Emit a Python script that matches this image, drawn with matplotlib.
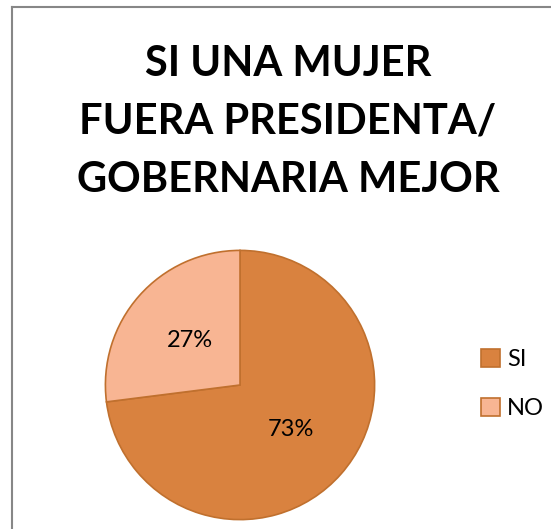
import matplotlib
matplotlib.use('Agg')
import matplotlib.pyplot as plt
from matplotlib.lines import Line2D

# datos
categorias = ['SI', 'NO']
valores = [73, 27]
colores = ['#D9823F', '#F8B593']
titulo = 'SI UNA MUJER\nFUERA PRESIDENTA/\nGOBERNARIA MEJOR'

plt.rcParams['font.family'] = ['Lato', 'DejaVu Sans']

fig = plt.figure(figsize=(5.51, 5.29), dpi=100)

# marco gris del grafico
fig.add_artist(Line2D([11.5 / 551, 11.5 / 551], [0, 1 - 6.5 / 529],
                      transform=fig.transFigure, color='#878787', lw=1.5))
fig.add_artist(Line2D([11.5 / 551, 1], [1 - 6.5 / 529, 1 - 6.5 / 529],
                      transform=fig.transFigure, color='#878787', lw=1.5))

fig.text(288 / 551, 1 - 122 / 529, titulo, ha='center', va='center',
         fontsize=30, fontweight='bold', linespacing=1.65)

ax = fig.add_axes([0.1888, 0.0152, 0.4936, 0.514])
wedges, texts, autotexts = ax.pie(
    valores, colors=colores, startangle=90, counterclock=False,
    autopct='%1.0f%%', pctdistance=0.5,
    wedgeprops=dict(edgecolor='#C0702E', linewidth=1.2),
    textprops=dict(fontsize=17, color='black'))
ax.set_aspect('equal')
ax.set_xlim(-1.01, 1.01)
ax.set_ylim(-1.01, 1.01)

leg = fig.legend(wedges, categorias, loc='center left',
                 bbox_to_anchor=(481 / 551, 1 - 384 / 529),
                 frameon=False, fontsize=17, handlelength=0.8,
                 handleheight=0.8, handletextpad=0.3, labelspacing=1.15,
                 borderpad=0, borderaxespad=0)

fig.savefig('out.png', dpi=100)
